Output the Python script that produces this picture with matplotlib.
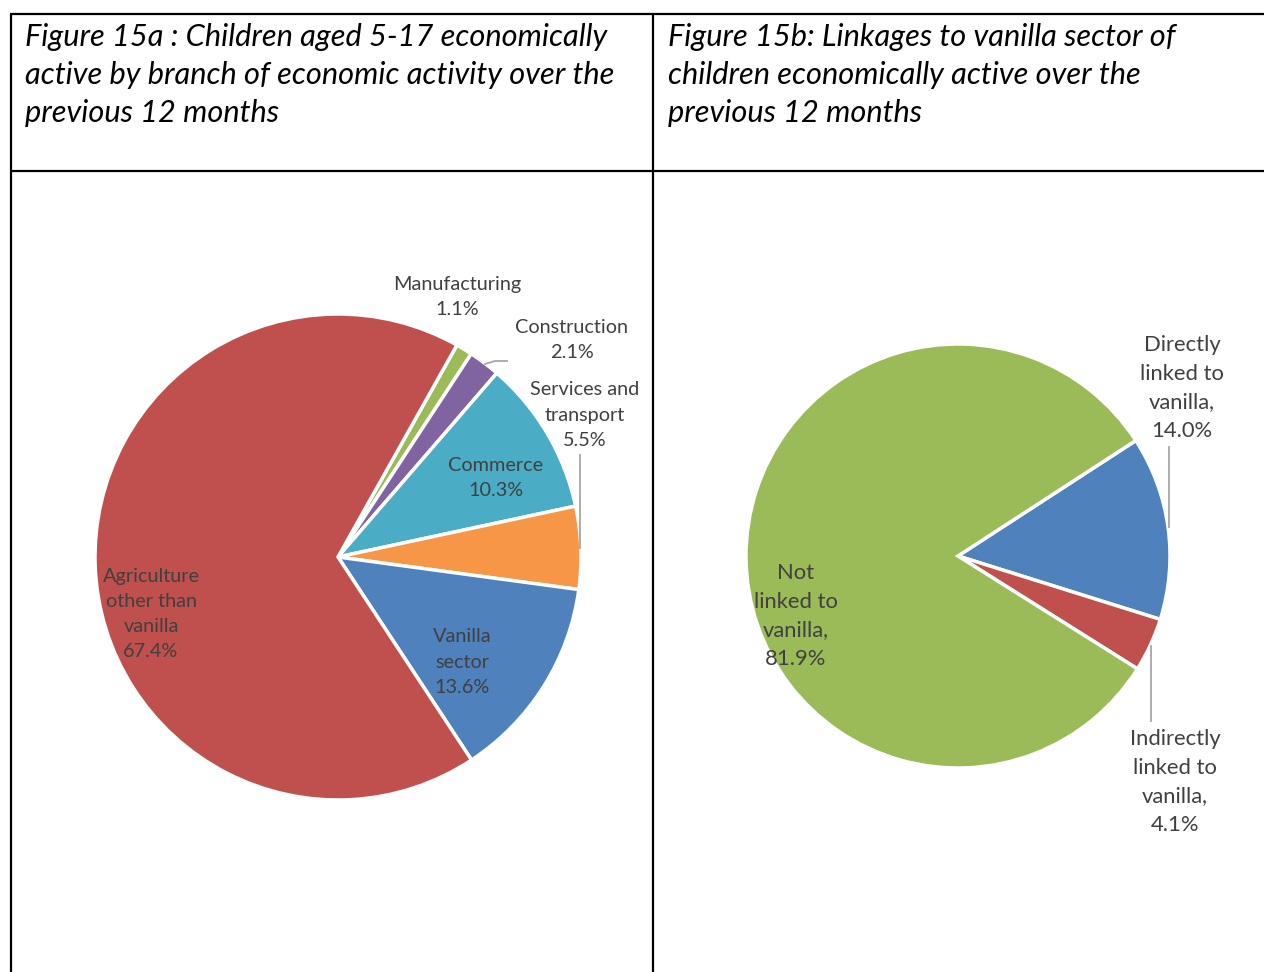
import matplotlib
matplotlib.use("Agg")
import matplotlib.pyplot as plt

# ---- data ----
branch_labels = ["Manufacturing", "Construction", "Commerce", "Services and\ntransport",
                 "Vanilla\nsector", "Agriculture\nother than\nvanilla"]
branch_values = [1.1, 2.1, 10.3, 5.5, 13.6, 67.4]
branch_colors = ["#9BBB59", "#8064A2", "#4BACC6", "#F79646", "#4F81BD", "#C0504D"]

link_labels = ["Directly\nlinked to\nvanilla,", "Indirectly\nlinked to\nvanilla,", "Not\nlinked to\nvanilla,"]
link_values = [14.0, 4.1, 81.9]
link_colors = ["#4F81BD", "#C0504D", "#9BBB59"]

title_a = "Figure 15a : Children aged 5-17 economically\nactive by branch of economic activity over the\nprevious 12 months"
title_b = "Figure 15b: Linkages to vanilla sector of\nchildren economically active over the\nprevious 12 months"

W, H = 1264, 972
DPI = 100
fig = plt.figure(figsize=(W / DPI, H / DPI), dpi=DPI)
ax = fig.add_axes([0, 0, 1, 1])
ax.set_xlim(0, W)
ax.set_ylim(0, H)
ax.set_aspect("equal")
ax.axis("off")

def Y(y):
    return H - y

def px(p):
    return p * 72 / DPI

TXT = "#404040"
LEAD = "#A6A6A6"
FONT = "Lato"

# table borders
bk = dict(color="black", lw=1.6, solid_capstyle="butt")
ax.plot([10, W], [Y(14), Y(14)], **bk)
ax.plot([10, W], [Y(171), Y(171)], **bk)
ax.plot([11, 11], [Y(14), 0], **bk)
ax.plot([653, 653], [Y(14), 0], **bk)

# titles
tkw = dict(fontsize=px(30.8), style="italic", family=FONT, color="black",
           va="center", ha="left", linespacing=1.44)
ax.text(25, Y(75), title_a, **tkw)
ax.text(668, Y(75), title_b, **tkw)

# pie A
wp = dict(edgecolor="white", linewidth=2.5)
ax.pie(branch_values, colors=branch_colors, center=(338, Y(557)), radius=243,
       startangle=60.7, counterclock=False, wedgeprops=wp, frame=True)

la = dict(fontsize=px(19.9), family=FONT, color=TXT, ha="center", va="center", linespacing=1.59)
pos_a = [(457, 297), (572, 340), (496, 478), (585, 415), (462, 662), (151, 614)]
for lab, v, (x, y) in zip(branch_labels, branch_values, pos_a):
    ax.text(x, Y(y), f"{lab}\n{v:.1f}%", **la)

ax.plot([485, 495, 507], [Y(364), Y(361), Y(361)], color=LEAD, lw=1.3)
ax.plot([580, 580], [Y(455), Y(548)], color=LEAD, lw=1.3)

# pie B
ax.pie(link_values, colors=link_colors, center=(958, Y(556)), radius=212,
       startangle=33, counterclock=False, wedgeprops=wp, frame=True)

lb = dict(fontsize=px(22), family=FONT, color=TXT, ha="center", va="center", linespacing=1.53)
pos_b = [(1182, 388), (1175, 782), (796, 616)]
for lab, v, (x, y) in zip(link_labels, link_values, pos_b):
    ax.text(x, Y(y), f"{lab}\n{v:.1f}%", **lb)

ax.plot([1169, 1169], [Y(447), Y(527)], color=LEAD, lw=1.3)
ax.plot([1151, 1151], [Y(646), Y(721)], color=LEAD, lw=1.3)

ax.set_xlim(0, W)
ax.set_ylim(0, H)
ax.axis("off")
fig.savefig("out.png", dpi=DPI)
